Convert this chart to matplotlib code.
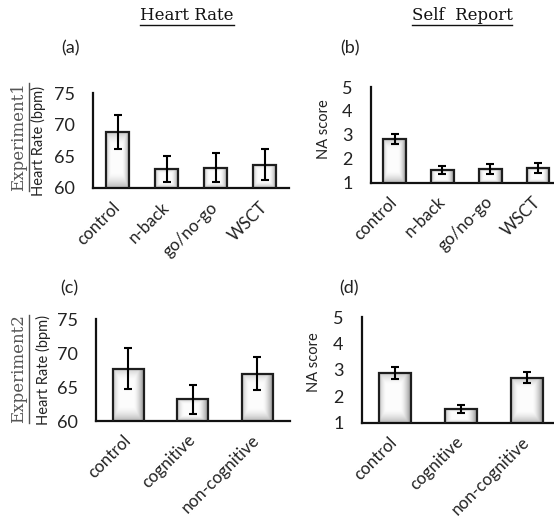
import numpy as np
import matplotlib
matplotlib.use("Agg")
import matplotlib.pyplot as plt
from matplotlib.lines import Line2D

plt.rcParams['font.family'] = ['Lato', 'DejaVu Sans']

# Experiment 1
exp1_cats = ['control', 'n-back', 'go/no-go', 'WSCT']
exp1_hr = [68.8, 63.0, 63.2, 63.7]
exp1_hr_err = [2.7, 2.0, 2.3, 2.5]
exp1_na = [2.82, 1.52, 1.57, 1.61]
exp1_na_err = [0.22, 0.17, 0.20, 0.21]

# Experiment 2
exp2_cats = ['control', 'cognitive', 'non-cognitive']
exp2_hr = [67.7, 63.2, 67.0]
exp2_hr_err = [3.0, 2.15, 2.5]
exp2_na = [2.88, 1.52, 2.70]
exp2_na_err = [0.22, 0.17, 0.21]

W, H = 554, 520
fig = plt.figure(figsize=(W / 100, H / 100), dpi=100)


def px_axes(left, right, top, bottom):
    return fig.add_axes([left / W, (H - bottom) / H, (right - left) / W, (bottom - top) / H])


def gradient_bars(ax, cats, vals, errs, ylim, xmax, ylabel, label_x, label_y=0.5):
    x = np.arange(len(cats))
    width = 0.48
    bars = ax.bar(x, vals, width=width, bottom=0, facecolor='none',
                  edgecolor='#1e1e1e', linewidth=1.6, zorder=3)
    # box gradient, white core to grey edges
    u = np.linspace(-1, 1, 80)
    uu, vv = np.meshgrid(u + 0.1, u + 0.05)
    t = np.clip((np.maximum(np.abs(uu), np.abs(vv) * 0.9) - 0.45) / 0.65, 0, 1) ** 1.6
    shade = 0.99 - 0.42 * t
    img = np.dstack([shade, shade, shade])
    for b, xi, v in zip(bars, x, vals):
        im = ax.imshow(img, extent=(xi - width / 2, xi + width / 2, ylim[0], v),
                       aspect='auto', zorder=2, interpolation='bilinear')
        im.set_clip_path(b)
    ax.errorbar(x, vals, yerr=errs, fmt='none', ecolor='black', elinewidth=1.5,
                capsize=2.8, capthick=1.5, zorder=4)
    ax.set_xlim(-0.5, xmax)
    ax.set_ylim(*ylim)
    ax.set_xticks(x)
    ax.set_xticklabels(cats, rotation=45, ha='right', va='center',
                       rotation_mode='anchor', fontsize=12.2, color='#222222')
    ax.tick_params(axis='x', length=0, pad=12)
    ax.tick_params(axis='y', length=0, pad=13, labelsize=13, labelcolor='#222222')
    for s in ['top', 'right']:
        ax.spines[s].set_visible(False)
    for s in ['left', 'bottom']:
        ax.spines[s].set_linewidth(1.6)
        ax.spines[s].set_color('#111111')
    ax.set_facecolor('none')
    ax.set_ylabel(ylabel, fontsize=10.5, color='#222222')
    ax.yaxis.set_label_coords(label_x, label_y)


ax_a = px_axes(93, 289, 93, 188)
gradient_bars(ax_a, exp1_cats, exp1_hr, exp1_hr_err, (60, 75), 3.5,
              'Heart Rate (bpm)', -0.24)
ax_a.set_yticks([60, 65, 70, 75])

ax_b = px_axes(370.7, 554, 87, 182.7)
gradient_bars(ax_b, exp1_cats, exp1_na, exp1_na_err, (1, 5), 3.335,
              'NA score', -0.217, 0.56)
ax_b.set_yticks([1, 2, 3, 4, 5])

ax_c = px_axes(96, 289.5, 319.3, 421)
gradient_bars(ax_c, exp2_cats, exp2_hr, exp2_hr_err, (60, 75), 2.5,
              'Heart Rate (bpm)', -0.232)
ax_c.set_yticks([60, 65, 70, 75])

ax_d = px_axes(361.7, 554, 317.3, 422.7)
gradient_bars(ax_d, exp2_cats, exp2_na, exp2_na_err, (1, 5), 2.414,
              'NA score', -0.21, 0.57)
ax_d.set_yticks([1, 2, 3, 4, 5])

# panel letters
for lab, xp, yp in [('(a)', 70, 48), ('(b)', 350, 48), ('(c)', 69, 288), ('(d)', 349, 288)]:
    fig.text(xp / W, 1 - yp / H, lab, fontsize=13, ha='center', va='center', color='#222222')

# underlined serif headers
headers = [
    ('Heart Rate', 187, 15, 0, '#111111'),
    ('Self  Report', 462, 15, 0, '#111111'),
    ('Experiment1', 19, 137, 90, '#555555'),
    ('Experiment2', 19, 369, 90, '#555555'),
]
renderer = fig.canvas.get_renderer()
for txt, xp, yp, rot, col in headers:
    t = fig.text(xp / W, 1 - yp / H, txt, fontsize=12, family='DejaVu Serif',
                 ha='center', va='center', rotation=rot, color=col)
    bb = t.get_window_extent(renderer).transformed(fig.transFigure.inverted())
    if rot == 0:
        yl = bb.y0 - 1.5 / H
        fig.add_artist(Line2D([bb.x0, bb.x1], [yl, yl], color=col, lw=1.0,
                              transform=fig.transFigure))
    else:
        xl = bb.x1 + 1.0 / W
        fig.add_artist(Line2D([xl, xl], [bb.y0, bb.y1], color=col, lw=1.0,
                              transform=fig.transFigure))

fig.savefig('out.png', dpi=100)
